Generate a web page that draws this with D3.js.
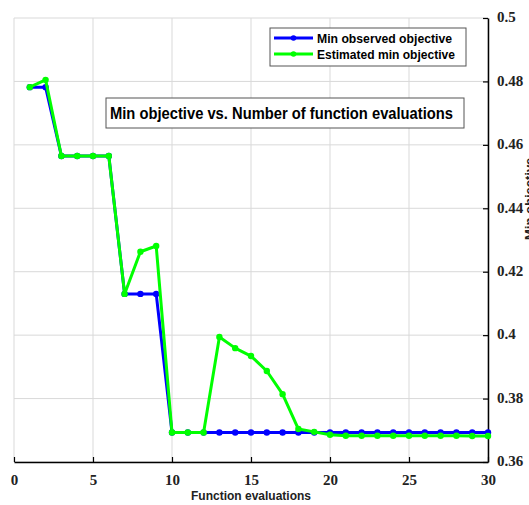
<!DOCTYPE html>
<html>
<head>
<meta charset="utf-8">
<script src="https://cdn.jsdelivr.net/npm/d3@7"></script>
<style>
  html, body { margin: 0; padding: 0; background: #fff; }
  svg { display: block; }
</style>
</head>
<body>
<svg id="chart" width="529" height="505"></svg>
<script>
// Bayesian optimisation trace: best objective found so far vs. evaluation count
const evaluations = d3.range(1, 31);
const minObserved = [
  0.4782, 0.4782, 0.4565, 0.4565, 0.4565, 0.4565, 0.4130, 0.4130, 0.4130, 0.3693,
  0.3693, 0.3693, 0.3693, 0.3693, 0.3693, 0.3693, 0.3693, 0.3693, 0.3693, 0.3693,
  0.3693, 0.3693, 0.3693, 0.3693, 0.3693, 0.3693, 0.3693, 0.3693, 0.3693, 0.3693
];
const estimatedMin = [
  0.4782, 0.4805, 0.4565, 0.4565, 0.4565, 0.4565, 0.4130, 0.4263, 0.4281, 0.3693,
  0.3693, 0.3693, 0.3994, 0.3959, 0.3934, 0.3887, 0.3814, 0.3704, 0.3695, 0.3686,
  0.3683, 0.3683, 0.3683, 0.3683, 0.3683, 0.3683, 0.3683, 0.3683, 0.3682, 0.3682
];
const xTicks = [0, 5, 10, 15, 20, 25, 30];
const yTicks = [0.36, 0.38, 0.40, 0.42, 0.44, 0.46, 0.48, 0.50];
const yTickLabels = ["0.36", "0.38", "0.4", "0.42", "0.44", "0.46", "0.48", "0.5"];
const seriesNames = ["Min observed objective", "Estimated min objective"];
const seriesColors = ["#0000ff", "#00ff00"];
const titleText = "Min objective vs. Number of function evaluations";
const xLabel = "Function evaluations";
const yLabel = "Min objective";

const svg = d3.select("#chart");
const plot = { left: 14, right: 488, top: 18, bottom: 462 };

const x = d3.scaleLinear().domain([0, 30]).range([plot.left, plot.right]);
const y = d3.scaleLinear().domain([0.36, 0.5]).range([plot.bottom, plot.top]);

// grid
const grid = svg.append("g");
grid.selectAll("line.gx").data(xTicks).join("line")
  .attr("x1", d => x(d)).attr("x2", d => x(d))
  .attr("y1", plot.top).attr("y2", plot.bottom)
  .attr("stroke", "#d9d9d9").attr("stroke-width", 1);
grid.selectAll("line.gy").data(yTicks).join("line")
  .attr("x1", plot.left).attr("x2", plot.right)
  .attr("y1", d => y(d)).attr("y2", d => y(d))
  .attr("stroke", "#d9d9d9").attr("stroke-width", 1);

// axes: bottom and right, ticks pointing inward
const tickFont = "'Liberation Serif', 'Times New Roman', serif";
const xAxis = svg.append("g")
  .attr("transform", `translate(0,${plot.bottom})`)
  .call(d3.axisBottom(x).tickValues(xTicks).tickSizeInner(-5).tickSizeOuter(0).tickPadding(12));
const yAxis = svg.append("g")
  .attr("transform", `translate(${plot.right},0)`)
  .call(d3.axisRight(y).tickValues(yTicks).tickFormat((d, i) => yTickLabels[i])
    .tickSizeInner(-5).tickSizeOuter(0).tickPadding(9));
[xAxis, yAxis].forEach(a => {
  a.select(".domain").attr("stroke", "#000").attr("stroke-width", 1.5);
  a.selectAll(".tick line").attr("stroke", "#000").attr("stroke-width", 1.2);
  a.selectAll(".tick text")
    .attr("font-family", tickFont).attr("font-weight", "bold")
    .attr("font-size", 15).attr("fill", "#222");
});
yAxis.selectAll(".tick text").attr("dy", "0.25em");

// series
const line = d3.line().x((d, i) => x(evaluations[i])).y(d => y(d));
[minObserved, estimatedMin].forEach((vals, k) => {
  const g = svg.append("g");
  g.append("path").datum(vals)
    .attr("d", line).attr("fill", "none")
    .attr("stroke", seriesColors[k]).attr("stroke-width", 3)
    .attr("stroke-linejoin", "round");
  g.selectAll("circle").data(vals).join("circle")
    .attr("cx", (d, i) => x(evaluations[i])).attr("cy", d => y(d))
    .attr("r", 3.2).attr("fill", seriesColors[k]);
});

const sans = "'Liberation Sans', Arial, Helvetica, sans-serif";

// legend
const lg = svg.append("g");
lg.append("rect").attr("x", 270).attr("y", 28).attr("width", 196).attr("height", 38)
  .attr("fill", "#fff").attr("stroke", "#555").attr("stroke-width", 1);
seriesNames.forEach((name, k) => {
  const ly = 38 + k * 16;
  lg.append("line").attr("x1", 274).attr("x2", 313).attr("y1", ly).attr("y2", ly)
    .attr("stroke", seriesColors[k]).attr("stroke-width", 3);
  lg.append("circle").attr("cx", 293.5).attr("cy", ly).attr("r", 2.8).attr("fill", seriesColors[k]);
  lg.append("text").attr("x", 317).attr("y", ly + 4.5)
    .attr("font-family", sans).attr("font-weight", "bold").attr("font-size", 13)
    .attr("textLength", k === 0 ? 135 : 138).attr("lengthAdjust", "spacingAndGlyphs")
    .attr("fill", "#000").text(name);
});

// title box
svg.append("rect").attr("x", 106).attr("y", 98).attr("width", 358).attr("height", 30)
  .attr("fill", "#fff").attr("stroke", "#555").attr("stroke-width", 1);
svg.append("text").attr("x", 110).attr("y", 119)
  .attr("font-family", sans).attr("font-weight", "bold").attr("font-size", 16)
  .attr("textLength", 343).attr("lengthAdjust", "spacingAndGlyphs")
  .attr("fill", "#000").text(titleText);

// axis labels
svg.append("text").attr("x", 251).attr("y", 500).attr("text-anchor", "middle")
  .attr("font-family", sans).attr("font-weight", "bold").attr("font-size", 13)
  .attr("textLength", 120).attr("lengthAdjust", "spacingAndGlyphs")
  .attr("fill", "#222").text(xLabel);
svg.append("text")
  .attr("transform", `translate(534,240) rotate(-90)`)
  .attr("text-anchor", "start")
  .attr("font-family", sans).attr("font-weight", "bold").attr("font-size", 13)
  .attr("fill", "#222").text(yLabel);
</script>
</body>
</html>
